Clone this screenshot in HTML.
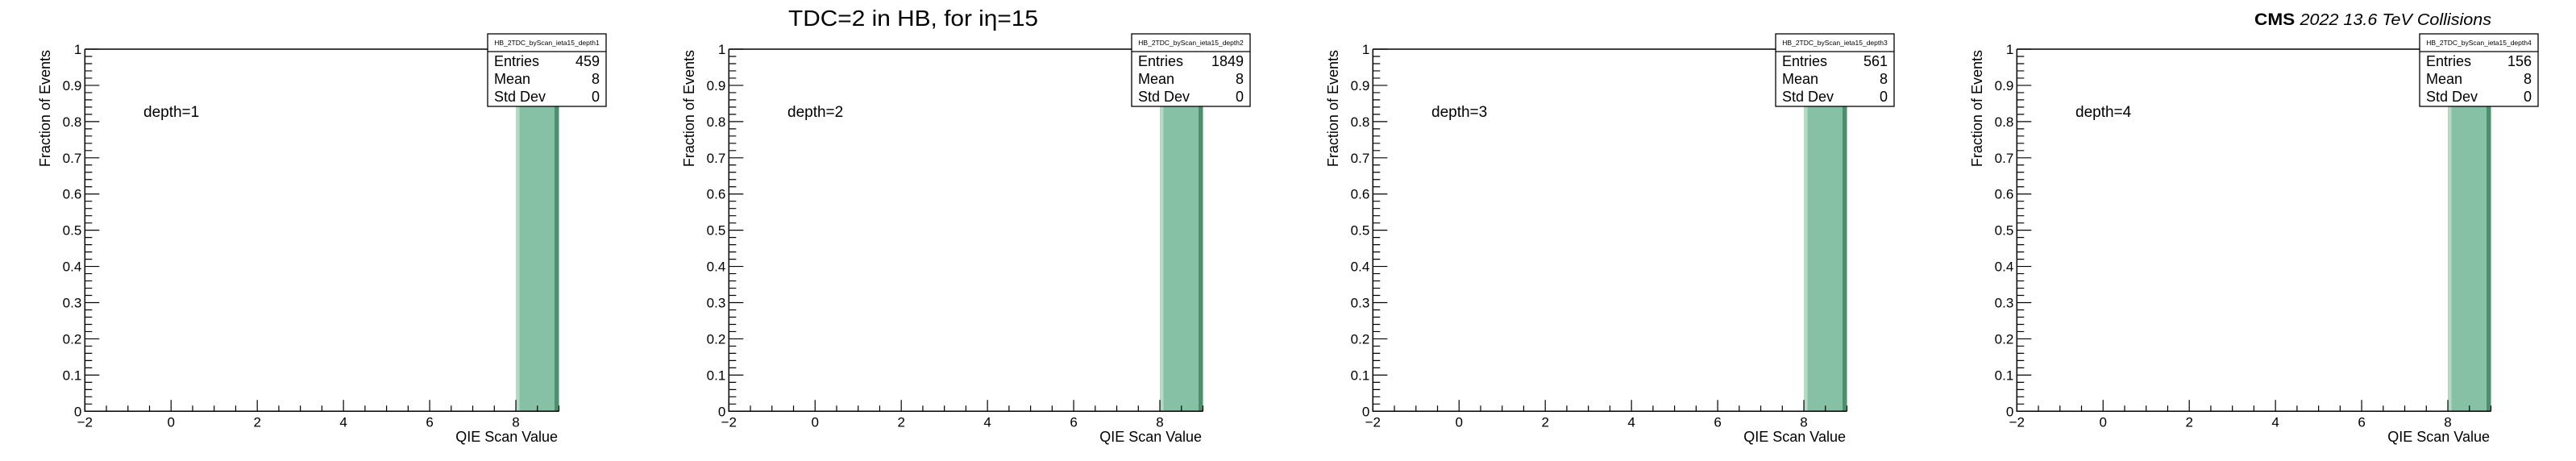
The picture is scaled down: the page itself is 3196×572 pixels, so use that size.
<!DOCTYPE html>
<html><head><meta charset="utf-8"><style>
html,body{margin:0;padding:0;background:#fff;}
svg{display:block;font-family:"Liberation Sans",sans-serif;}
</style></head><body>
<svg id="c" width="3196" height="572" viewBox="0 0 3196 572" xmlns="http://www.w3.org/2000/svg">
<text x="978" y="32" font-size="28" textLength="310" lengthAdjust="spacingAndGlyphs">TDC=2 in HB, for iη=15</text>
<text x="2797" y="31" font-size="21" textLength="294" lengthAdjust="spacingAndGlyphs"><tspan font-weight="bold">CMS</tspan> <tspan font-style="italic" font-size="20">2022 13.6 TeV Collisions</tspan></text>
</svg>
<script>
// data
const depths = [1, 2, 3, 4];
const entries = [459, 1849, 561, 156];
const means = [8, 8, 8, 8];
const stdDevs = [0, 0, 0, 0];
const binLow = [8, 8, 8, 8];
const binHigh = [9, 9, 9, 9];
const fractions = [1.0, 1.0, 1.0, 1.0];
const xTicks = [-2, 0, 2, 4, 6, 8];
const yTicks = [0, 0.1, 0.2, 0.3, 0.4, 0.5, 0.6, 0.7, 0.8, 0.9, 1];
const yTickLabels = ["0", "0.1", "0.2", "0.3", "0.4", "0.5", "0.6", "0.7", "0.8", "0.9", "1"];

const NS = "http://www.w3.org/2000/svg";
const svg = document.getElementById('c');
function mk(tag, attrs, parent, txt) {
  const e = document.createElementNS(NS, tag);
  for (const k in attrs) e.setAttribute(k, attrs[k]);
  if (txt !== undefined) e.textContent = txt;
  parent.appendChild(e);
  return e;
}
const X0 = -2, X1 = 9, Y0 = 0, Y1 = 1;
const L = 105.3, R = 693.5, T = 61, B = 510.3;

for (let p = 0; p < 4; p++) {
  const off = p * 799;
  const sx = v => off + L + (v - X0) / (X1 - X0) * (R - L);
  const sy = v => B - (v - Y0) / (Y1 - Y0) * (B - T);
  const g = mk('g', {}, svg);
  
  

  const bx0 = sx(binLow[p]), bx1 = sx(binHigh[p]), by = sy(fractions[p]);
  const bar = mk('g', {}, g);
  
  
  mk('rect', {x: bx0, y: by, width: bx1 - bx0, height: B - by, fill: '#86c1a5'}, bar);
  mk('rect', {x: bx0, y: by, width: 4.5, height: B - by, fill: '#b4dac7'}, bar);
  mk('rect', {x: bx1 - 5.5, y: by, width: 5.5, height: B - by, fill: '#4b8f6c'}, bar);

  const ax = mk('path', {d: `M${off+L},${T} L${off+R},${T} M${off+L},${T} L${off+L},${B} L${off+R},${B}`, stroke: '#000', 'stroke-width': 1.5, fill: 'none'}, g);
  
  

  let d = '';
  for (let v = X0; v <= X1 + 1e-9; v += 0.5) {
    const major = Math.abs(v / 2 - Math.round(v / 2)) < 1e-9 && v <= 8;
    const len = major ? 14 : 7;
    d += `M${sx(v)},${B} L${sx(v)},${B - len} `;
  }
  for (let i = 0; i <= 50; i++) {
    const v = i * 0.02;
    const len = (i % 5 === 0) ? 18 : 9;
    d += `M${off+L},${sy(v)} L${off+L+len},${sy(v)} `;
  }
  const tk = mk('path', {d: d, stroke: '#000', 'stroke-width': 1.2, fill: 'none'}, g);
  
  

  xTicks.forEach(v => {
    const t = mk('text', {x: sx(v), y: B + 19, 'font-size': 17, 'text-anchor': 'middle'}, g, v < 0 ? '\u2212' + Math.abs(v) : String(v));
    
    
  });
  yTicks.forEach((v, i) => {
    const t = mk('text', {x: off + L - 4, y: sy(v) + 6, 'font-size': 17, 'text-anchor': 'end'}, g, yTickLabels[i]);
    
    
  });

  const xt = mk('text', {x: off + 692, y: 548, 'font-size': 18, 'text-anchor': 'end'}, g, 'QIE Scan Value');
  
  
  const yt = mk('text', {transform: `translate(${off + 62},${T + 1}) rotate(-90)`, 'font-size': 18, 'text-anchor': 'end'}, g, 'Fraction of Events');
  
  

  const dl = mk('text', {x: off + 178, y: 145, 'font-size': 19}, g, 'depth=' + depths[p]);
  
  

  const sb = mk('g', {}, g);
  
  
  mk('rect', {x: off + 605, y: 42, width: 147, height: 90, fill: '#fff', stroke: '#000', 'stroke-width': 1.3}, sb);
  mk('line', {x1: off + 605, y1: 64, x2: off + 752, y2: 64, stroke: '#000', 'stroke-width': 1.3}, sb);
  mk('text', {x: off + 678.5, y: 56, 'font-size': 8.5, 'text-anchor': 'middle'}, sb, 'HB_2TDC_byScan_ieta15_depth' + depths[p]);
  const rows = [['Entries', entries[p]], ['Mean', means[p]], ['Std Dev', stdDevs[p]]];
  const ys = [82, 104, 126];
  rows.forEach((r, i) => {
    mk('text', {x: off + 613, y: ys[i], 'font-size': 18}, sb, r[0]);
    mk('text', {x: off + 744, y: ys[i], 'font-size': 18, 'text-anchor': 'end'}, sb, String(r[1]));
  });
}
</script>
</body></html>
